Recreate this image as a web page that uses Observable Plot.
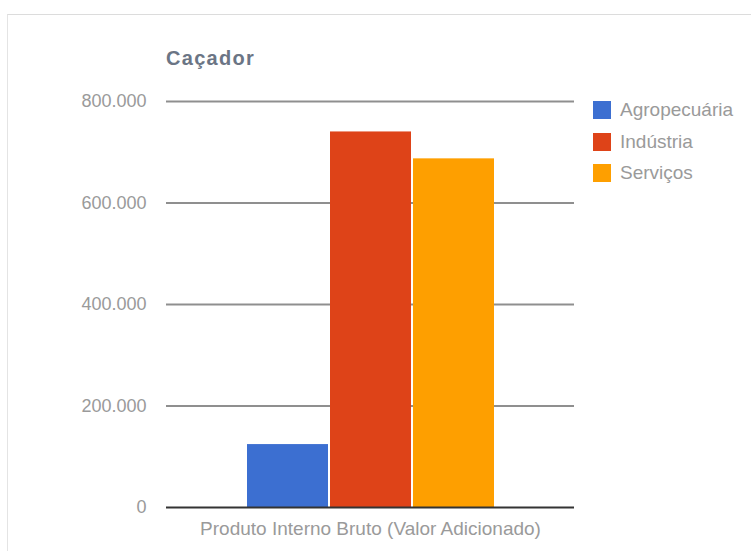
<!DOCTYPE html>
<html>
<head>
<meta charset="utf-8">
<script src="https://cdn.jsdelivr.net/npm/d3@7"></script>
<script src="https://cdn.jsdelivr.net/npm/@observablehq/plot@0.6"></script>
<style>
  html, body { margin: 0; padding: 0; background: #fff; }
  #frame {
    position: absolute; left: 7px; top: 14px; width: 760px; height: 560px;
    border-top: 1px solid #dcdcdc; border-left: 1px solid #e4e4e4;
  }
  #chart { position: absolute; left: 0; top: 0; }
  #chart svg [aria-label^="fx-axis"] { font-size: 19px; }
  #title {
    position: absolute; left: 166px; top: 47px;
    font: bold 20px "Liberation Sans", Arial, sans-serif;
    letter-spacing: 1.3px; color: #6b7585;
  }
  #legend { position: absolute; left: 593px; top: 101px; font: 19px "Liberation Sans", Arial, sans-serif; color: #9a9a9a; }
  .item { display: flex; align-items: center; height: 18px; margin-bottom: 13.5px; }
  .sw { width: 18px; height: 18px; margin-right: 9px; }
</style>
</head>
<body>
<div id="frame"></div>
<div id="chart"></div>
<div id="title">Caçador</div>
<div id="legend"></div>
<script>
// PIB por setor (valor adicionado), Caçador
const category = "Produto Interno Bruto (Valor Adicionado)";
const series = ["Agropecuária", "Indústria", "Serviços"];
const values = [124000, 740000, 687000];
const colors = ["#3c6fd1", "#de4318", "#fe9f00"];
const yTicks = [0, 200000, 400000, 600000, 800000];

const data = series.map((s, i) => ({category, series: s, value: values[i]}));
const fmt = d3.formatLocale({decimal: ",", thousands: ".", grouping: [3], currency: ["R$", ""]}).format(",");

const chart = Plot.plot({
  width: 751,
  height: 551,
  marginLeft: 166,
  marginRight: 177,
  marginTop: 101,
  marginBottom: 44,
  style: {fontFamily: "'Liberation Sans', Arial, sans-serif", fontSize: "18px", color: "#9a9a9a", background: "transparent"},
  facet: {data, x: "category"},
  fx: {axis: "bottom", label: null, padding: 0, tickSize: 0, tickPadding: 14},
  x: {domain: series, axis: null, paddingInner: 0.025, paddingOuter: 0.96},
  y: {domain: [0, 800000], ticks: yTicks, tickFormat: fmt, tickSize: 0, tickPadding: 20, label: null},
  color: {domain: series, range: colors},
  marks: [
    Plot.ruleY(yTicks.filter(d => d > 0), {stroke: "#8f8f8f", strokeWidth: 2}),
    Plot.barY(data, {x: "series", y: "value", fill: "series"}),
    Plot.ruleY([0], {stroke: "#333", strokeWidth: 2})
  ]
});
document.getElementById("chart").append(chart);

const legend = document.getElementById("legend");
series.forEach((s, i) => {
  const item = document.createElement("div");
  item.className = "item";
  const sw = document.createElement("div");
  sw.className = "sw";
  sw.style.background = colors[i];
  const label = document.createElement("span");
  label.textContent = s;
  item.append(sw, label);
  legend.append(item);
});
</script>
</body>
</html>
